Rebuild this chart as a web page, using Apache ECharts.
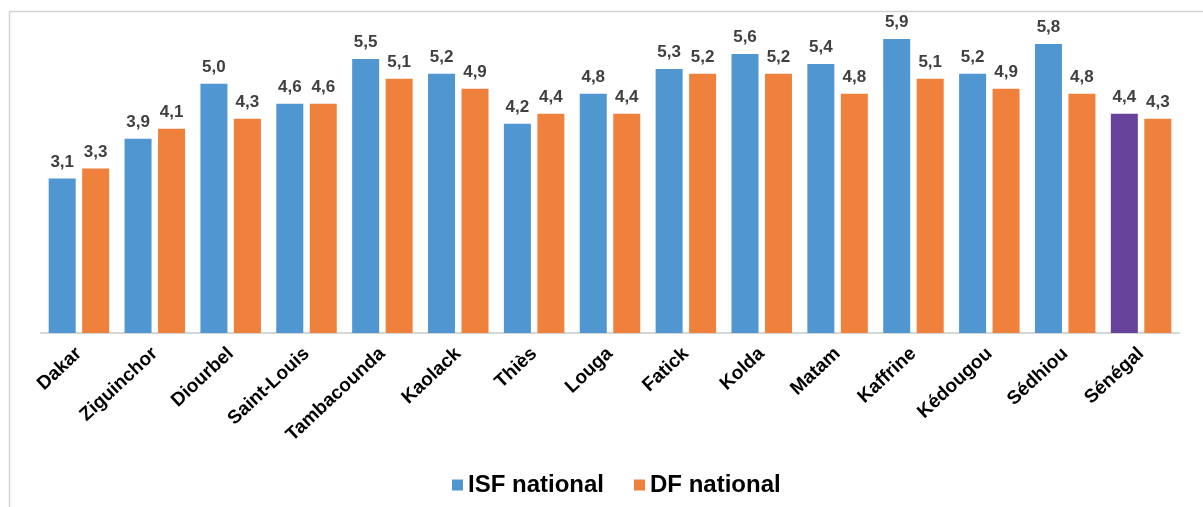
<!DOCTYPE html>
<html>
<head>
<meta charset="utf-8">
<script src="https://cdn.jsdelivr.net/npm/echarts@6/dist/echarts.min.js"></script>
<style>
  html, body { margin: 0; padding: 0; background: #fff; }
  #chart { width: 1203px; height: 507px; }
</style>
</head>
<body>
<div id="chart"></div>
<script>
const regions = ['Dakar', 'Ziguinchor', 'Diourbel', 'Saint-Louis', 'Tambacounda', 'Kaolack', 'Thiès',
  'Louga', 'Fatick', 'Kolda', 'Matam', 'Kaffrine', 'Kédougou', 'Sédhiou', 'Sénégal'];
const isfValues = [3.1, 3.9, 5.0, 4.6, 5.5, 5.2, 4.2, 4.8, 5.3, 5.6, 5.4, 5.9, 5.2, 5.8, 4.4];
const dfValues = [3.3, 4.1, 4.3, 4.6, 5.1, 4.9, 4.4, 4.4, 5.2, 5.2, 4.8, 5.1, 4.9, 4.8, 4.3];

const BLUE = '#5097d1';
const ORANGE = '#f0813c';
const PURPLE = '#67429a';

// the national total gets its own colour
const isfData = isfValues.map((v, i) =>
  regions[i] === 'Sénégal' ? { value: v, itemStyle: { color: PURPLE } } : v);

const chart = echarts.init(document.getElementById('chart'));

const labelStyle = {
  show: true,
  position: 'top',
  distance: 8,
  color: '#404040',
  fontFamily: 'Liberation Sans, Arial, sans-serif',
  fontWeight: 'bold',
  fontSize: 17,
  formatter: p => p.value.toFixed(1).replace('.', ',')
};

const option = {
  animation: false,
  graphic: [
    { type: 'line', shape: { x1: 9.5, y1: 11.5, x2: 1203, y2: 11.5 }, style: { stroke: '#d3d3d3', lineWidth: 1.5 } },
    { type: 'line', shape: { x1: 9.5, y1: 11.5, x2: 9.5, y2: 507 }, style: { stroke: '#d3d3d3', lineWidth: 1.5 } }
  ],
  legend: {
    top: 468,
    left: 447,
    icon: 'rect',
    itemWidth: 11,
    itemHeight: 11,
    itemGap: 30,
    textStyle: {
      color: '#000',
      fontFamily: 'Liberation Sans, Arial, sans-serif',
      fontWeight: 'bold',
      fontSize: 24
    },
    data: [
      { name: 'ISF national', itemStyle: { color: BLUE } },
      { name: 'DF national', itemStyle: { color: ORANGE } }
    ]
  },
  grid: { left: 41, right: 24, top: 34, bottom: 174 },
  xAxis: {
    type: 'category',
    data: regions,
    axisLine: { lineStyle: { color: '#d6d6d6', width: 2 } },
    axisTick: { show: false },
    axisLabel: {
      rotate: 43,
      margin: 18,
      interval: 0,
      color: '#000',
      fontFamily: 'Liberation Sans, Arial, sans-serif',
      fontWeight: 'bold',
      fontSize: 19
    }
  },
  yAxis: {
    type: 'value',
    min: 0,
    max: 6,
    show: false
  },
  series: [
    {
      name: 'ISF national',
      type: 'bar',
      data: isfData,
      barWidth: 27,
      barGap: '24%',
      itemStyle: { color: BLUE },
      label: labelStyle
    },
    {
      name: 'DF national',
      type: 'bar',
      data: dfValues,
      barWidth: 27,
      itemStyle: { color: ORANGE },
      label: labelStyle
    }
  ]
};

chart.setOption(option);
</script>
</body>
</html>
